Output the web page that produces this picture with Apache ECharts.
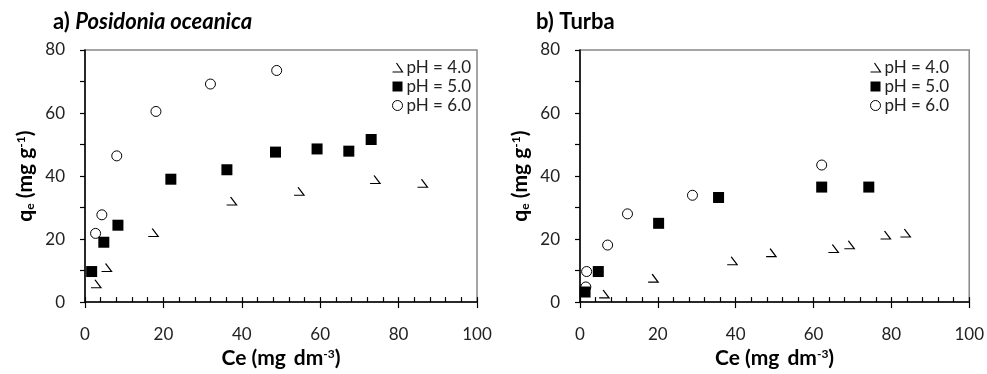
<!DOCTYPE html>
<html><head><meta charset="utf-8">
<script src="https://cdn.jsdelivr.net/npm/echarts@6/dist/echarts.min.js"></script>
<style>html,body{margin:0;padding:0;background:#fff}#c{width:987px;height:374px}</style>
</head><body><div id="c"></div>
<script>
const seriesNames = ['pH = 4.0', 'pH = 5.0', 'pH = 6.0'];
const xTicks = [0, 20, 40, 60, 80, 100];
const yTicks = [0, 20, 40, 60, 80];

// a) Posidonia oceanica
const aPh4Ce = [2.8, 5.5, 17.4, 37.4, 54.6, 74.0, 86.1];
const aPh4Qe = [5.8, 11.0, 22.1, 32.1, 35.2, 38.9, 37.7];
const aPh5Ce = [1.7, 4.8, 8.4, 21.9, 36.2, 48.6, 59.2, 67.3, 73.0];
const aPh5Qe = [9.7, 19.0, 24.4, 39.0, 42.0, 47.6, 48.6, 47.9, 51.6];
const aPh6Ce = [2.7, 4.3, 8.1, 18.1, 32.0, 48.9];
const aPh6Qe = [21.8, 27.7, 46.4, 60.5, 69.2, 73.5];

// b) Turba
const bPh4Ce = [6.2, 18.8, 39.1, 49.1, 65.1, 69.2, 78.5, 83.6];
const bPh4Qe = [2.6, 7.6, 13.1, 15.7, 17.0, 18.2, 21.3, 21.9];
const bPh5Ce = [1.3, 4.7, 20.2, 35.6, 62.1, 74.2];
const bPh5Qe = [3.2, 9.7, 25.0, 33.2, 36.5, 36.5];
const bPh6Ce = [1.5, 1.7, 7.1, 12.2, 28.9, 62.1];
const bPh6Qe = [4.8, 9.7, 18.1, 28.0, 33.9, 43.5];

const zip = (xs, ys) => xs.map((x, i) => [x, ys[i]]);
const FONT = 'Lato';
const TRI = 'path://M4,0 L10,9 L0,9';

const symStyles = [
  { symbol: TRI, symbolSize: [10, 8], itemStyle: { color: 'none', borderColor: '#000', borderWidth: 1.2, opacity: 1 } },
  { symbol: 'rect', symbolSize: 11, itemStyle: { color: '#000', borderColor: '#000', borderWidth: 0, opacity: 1 } },
  { symbol: 'circle', symbolSize: 10, itemStyle: { color: '#fff', borderColor: '#000', borderWidth: 1, opacity: 1 } }
];

const grids = [
  { left: 85, right: 510, top: 50, bottom: 71, show: true, borderColor: '#888', borderWidth: 1.5 },
  { left: 580, right: 17, top: 50, bottom: 71, show: true, borderColor: '#888', borderWidth: 1.5 }
];

const nameStyle = {
  fontFamily: FONT, fontWeight: 'bold', fontSize: 21, color: '#000',
  rich: {
    b: { fontFamily: FONT, fontWeight: 'bold', fontSize: 21, color: '#000' },
    sp: { fontFamily: FONT, fontWeight: 'bold', fontSize: 21, color: '#000', width: 8 },
    sub: { fontFamily: FONT, fontWeight: 'bold', fontSize: 12, color: '#000', verticalAlign: 'bottom', padding: [8, 0, 0, 0] },
    sup: { fontFamily: FONT, fontWeight: 'bold', fontSize: 12, color: '#000', verticalAlign: 'top', padding: [0, 0, 9, 0] }
  }
};

function makeXAxes(gi) {
  return [{
    gridIndex: gi, type: 'value', min: xTicks[0], max: xTicks[xTicks.length - 1], interval: 20,
    name: '{b|Ce (mg}{sp|}{b|dm}{sup|-3}{b|)}', nameLocation: 'middle', nameGap: 42, nameTextStyle: nameStyle,
    axisLine: { show: true, onZero: false, lineStyle: { color: '#000', width: 1.5 } },
    axisTick: { show: true, inside: false, length: 6, lineStyle: { color: '#000', width: 1.2 } },
    axisLabel: { margin: 24, fontFamily: FONT, fontSize: 17, color: '#222' },
    splitLine: { show: false }
  }, {
    gridIndex: gi, type: 'value', min: xTicks[0], max: xTicks[xTicks.length - 1], interval: 4, position: 'bottom',
    axisLine: { show: false },
    axisTick: { show: true, inside: true, length: 5, lineStyle: { color: '#000', width: 1.2 } },
    axisLabel: { show: false }, splitLine: { show: false }
  }];
}
function makeYAxis(gi) {
  return {
    gridIndex: gi, type: 'value', min: yTicks[0], max: yTicks[yTicks.length - 1], interval: 20,
    name: '{b|q}{sub|e}{b| (mg g}{sup|-1}{b|)}', nameLocation: 'middle', nameGap: 49, nameRotate: 90, nameTextStyle: nameStyle,
    axisLine: { show: true, onZero: false, lineStyle: { color: '#000', width: 1.5 } },
    axisTick: { show: true, inside: false, length: 5, lineStyle: { color: '#000', width: 1.2 } },
    minorTick: { show: true, splitNumber: 2, length: 5, lineStyle: { color: '#000', width: 1.2 } },
    axisLabel: { margin: 20, fontFamily: FONT, fontSize: 17, color: '#222' },
    splitLine: { show: false }
  };
}

const dataSets = [
  [zip(aPh4Ce, aPh4Qe), zip(aPh5Ce, aPh5Qe), zip(aPh6Ce, aPh6Qe)],
  [zip(bPh4Ce, bPh4Qe), zip(bPh5Ce, bPh5Qe), zip(bPh6Ce, bPh6Qe)]
];
const series = [];
dataSets.forEach((set, gi) => {
  set.forEach((d, si) => {
    series.push(Object.assign({
      type: 'scatter', name: seriesNames[si], xAxisIndex: gi * 2, yAxisIndex: gi, data: d,
      emphasis: { disabled: true }, z: 3 - si + 2
    }, symStyles[si]));
  });
});

const legendData = seriesNames.map((n, i) => ({
  name: n, icon: symStyles[i].symbol,
  itemStyle: symStyles[i].itemStyle
}));
function makeLegend(left) {
  return {
    show: true, orient: 'vertical', left: left, top: 54, itemGap: 2, itemWidth: 10, itemHeight: 10,
    data: legendData, selectedMode: false,
    textStyle: { fontFamily: FONT, fontSize: 17, color: '#222', padding: [0, 0, 0, -1] }
  };
}

const chart = echarts.init(document.getElementById('c'), null, { renderer: 'canvas' });
chart.setOption({
  animation: false,
  backgroundColor: '#fff',
  title: [
    { left: 48, top: 6, text: '{b|a) }{i|Posidonia oceanica}',
      textStyle: { fontSize: 22, fontWeight: 'bold', fontFamily: FONT, rich: {
        b: { fontFamily: FONT, fontWeight: 'bold', fontSize: 22, color: '#000' },
        i: { fontFamily: FONT, fontWeight: 'bold', fontStyle: 'italic', fontSize: 22, color: '#000' } } } },
    { left: 531, top: 6, text: 'b) Turba',
      textStyle: { fontFamily: FONT, fontWeight: 'bold', fontSize: 22, color: '#000' } }
  ],
  legend: [makeLegend(385), makeLegend(863)],
  grid: grids,
  xAxis: [...makeXAxes(0), ...makeXAxes(1)],
  yAxis: [makeYAxis(0), makeYAxis(1)],
  series: series
});
</script></body></html>
